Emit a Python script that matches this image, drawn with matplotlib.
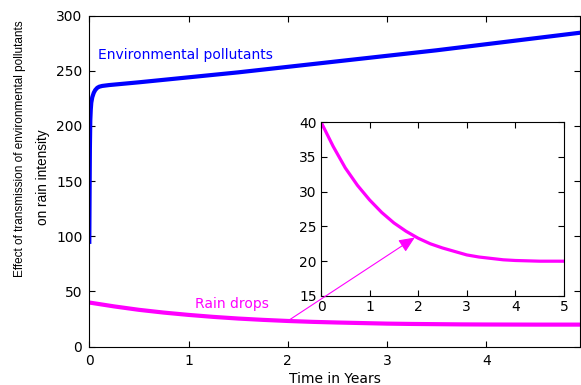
import numpy as np
import matplotlib
matplotlib.use("Agg")
import matplotlib.pyplot as plt

# values
t_poll = [0, 0.003, 0.006, 0.01, 0.015, 0.02, 0.03, 0.045, 0.06, 0.08, 0.1, 0.13,
          0.2, 0.5, 1.0, 1.5, 2.0, 2.5, 3.0, 3.5, 4.0, 4.5, 5.0]
pollutants = [95, 140, 180, 205, 215, 221, 226, 230, 232.5, 234.5, 235.5, 236.2,
              237, 239.5, 244, 248.5, 253.5, 258.5, 263.5, 268.5, 274, 279.5, 285]

t_rain = [0, 0.25, 0.5, 0.75, 1.0, 1.25, 1.5, 1.75, 2.0, 2.25, 2.5, 2.75,
          3.0, 3.25, 3.5, 3.75, 4.0, 4.5, 5.0]
rain = [40, 36.5, 33.4, 30.9, 28.8, 27.0, 25.5, 24.3, 23.3, 22.5, 21.9, 21.4,
        20.9, 20.6, 20.4, 20.2, 20.1, 20.0, 20.0]

main_xticks = [0, 1, 2, 3, 4]
main_yticks = [0, 50, 100, 150, 200, 250, 300]
inset_xticks = [0, 1, 2, 3, 4, 5]
inset_yticks = [15, 20, 25, 30, 35, 40]

plt.rcParams['font.family'] = 'DejaVu Sans'
plt.rcParams['font.size'] = 10

fig = plt.figure(figsize=(5.81, 3.85), dpi=100)
ax = fig.add_axes([0.1537, 0.0995, 0.8454, 0.8602])

ax.plot(t_poll, pollutants, color='#0000ff', lw=3)
ax.plot(t_rain, rain, color='#ff00ff', lw=3)
ax.set_xlim(0, 4.95)
ax.set_ylim(0, 300)
ax.set_xticks(main_xticks)
ax.set_yticks(main_yticks)
ax.tick_params(direction='in', top=True, right=True, length=4, width=0.8, pad=5)
for s in ax.spines.values():
    s.set_linewidth(0.8)
ax.set_xlabel('Time in Years', labelpad=3)

ax.text(0.085, 264.5, 'Environmental pollutants', color='#0000ff', va='center', ha='left')
ax.text(1.066, 39, 'Rain drops', color='#ff00ff', va='center', ha='left')

# y label, two lines placed by hand
fig.text(0.0344, 0.614, 'Effect of transmission of environmental pollutants',
         rotation=90, ha='center', va='center', fontsize=8.5,
         family=['Liberation Sans', 'DejaVu Sans'])
fig.text(0.074, 0.540, 'on rain intensity', rotation=90, ha='center', va='center',
         fontsize=9.8, family=['Liberation Sans', 'DejaVu Sans'])

# inset
axins = fig.add_axes([0.5525, 0.2312, 0.4182, 0.4519])
axins.plot(t_rain, rain, color='#ff00ff', lw=2.3)
axins.set_xlim(0, 5)
axins.set_ylim(15, 40)
axins.set_xticks(inset_xticks)
axins.set_yticks(inset_yticks)
axins.tick_params(direction='in', top=True, right=True, length=4, width=0.8, pad=3)
for s in axins.spines.values():
    s.set_linewidth(0.8)

# arrow from the main curve to the inset (drawn on the inset so it stays on top)
axins.annotate('', xy=(1.93, 23.4), xycoords='data',
               xytext=(2.02, 24.5), textcoords=ax.transData,
               annotation_clip=False,
               arrowprops=dict(arrowstyle='-|>,head_length=0.8,head_width=0.35',
                               color='#ff00ff', lw=0.8, mutation_scale=12,
                               shrinkA=0, shrinkB=0))

fig.savefig('out.png', dpi=100)
